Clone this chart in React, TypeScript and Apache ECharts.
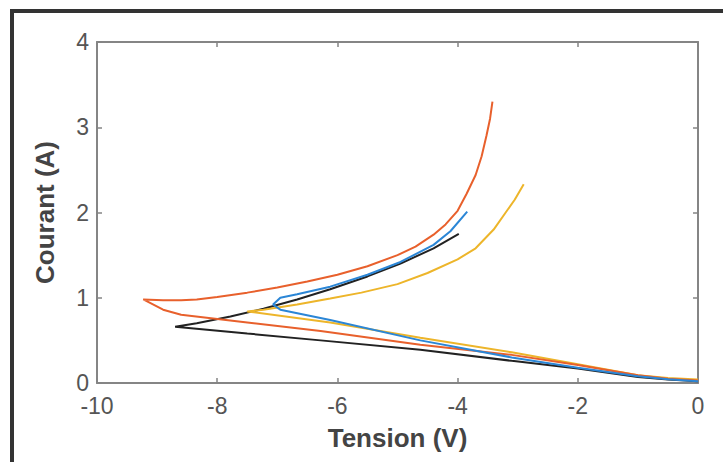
import React, { useEffect, useRef } from "react";
import * as echarts from "echarts";

// Tension (V) / Courant (A) for each curve
const orangeV = [0, -0.5, -1, -2, -3.1, -4.62, -6.28, -7.5, -8.6, -8.9, -9.23, -8.9, -8.6, -8.34, -8.0, -7.5, -7.0, -6.5, -6.0, -5.5, -5.0, -4.7, -4.4, -4.2, -4.0, -3.85, -3.7, -3.6, -3.52, -3.46, -3.42];
const orangeI = [0.03, 0.05, 0.09, 0.21, 0.33, 0.45, 0.61, 0.71, 0.8, 0.86, 0.98, 0.97, 0.97, 0.98, 1.01, 1.06, 1.12, 1.19, 1.27, 1.37, 1.5, 1.6, 1.74, 1.86, 2.02, 2.22, 2.44, 2.66, 2.9, 3.1, 3.3];

const blueV = [0, -0.5, -1, -2, -3.1, -4.62, -6.12, -6.95, -7.07, -6.95, -6.67, -6.12, -5.5, -4.95, -4.4, -4.12, -3.84];
const blueI = [0.02, 0.045, 0.08, 0.18, 0.3, 0.5, 0.74, 0.86, 0.92, 1.0, 1.04, 1.13, 1.27, 1.42, 1.62, 1.78, 2.01];

const yellowV = [0, -0.5, -1, -2, -3.1, -4.62, -6.12, -7.5, -7.23, -6.67, -6.12, -5.6, -5.0, -4.5, -4.0, -3.7, -3.4, -3.2, -3.05, -2.9];
const yellowI = [0.04, 0.06, 0.09, 0.22, 0.36, 0.53, 0.71, 0.84, 0.86, 0.92, 0.99, 1.06, 1.16, 1.29, 1.45, 1.58, 1.8, 2.0, 2.15, 2.33];

const blackV = [0, -0.5, -1, -2, -3.1, -4.62, -6.28, -7.5, -8.7, -8.34, -7.78, -7.23, -6.67, -6.12, -5.5, -4.95, -4.4, -3.98];
const blackI = [0.02, 0.04, 0.07, 0.17, 0.26, 0.39, 0.5, 0.58, 0.66, 0.7, 0.78, 0.87, 0.98, 1.1, 1.25, 1.4, 1.58, 1.75];

const xTicks = [-10, -8, -6, -4, -2, 0];
const yTicks = [0, 1, 2, 3, 4];

const zip = (a: number[], b: number[]) => a.map((v, i) => [v, b[i]]);

const FONT = "Liberation Sans, Arial, sans-serif";
const AXIS = "#858585";
const LABEL = "#555555";

export default function App() {
  const ref = useRef<HTMLDivElement>(null);
  useEffect(() => {
    if (!ref.current) return;
    const chart = echarts.init(ref.current, undefined, { renderer: "svg" });
    const mkLine = (name: string, v: number[], i: number[], color: string) => ({
      name,
      type: "line",
      data: zip(v, i),
      showSymbol: false,
      smooth: false,
      lineStyle: { color, width: 2 },
      itemStyle: { color },
      z: 3,
    });
    const axisCommon = {
      axisLine: { show: true, onZero: false, lineStyle: { color: AXIS, width: 2 } },
      axisTick: { show: true, inside: true, length: 5, lineStyle: { color: AXIS, width: 1.5 } },
      splitLine: { show: false },
    };
    chart.setOption({
      animation: false,
      backgroundColor: "#ffffff",
      grid: { left: 97, right: 25, top: 42, bottom: 79, containLabel: false },
      xAxis: [
        {
          type: "value",
          min: xTicks[0],
          max: xTicks[xTicks.length - 1],
          interval: 2,
          position: "bottom",
          name: "Tension (V)",
          nameLocation: "middle",
          nameGap: 42,
          nameTextStyle: { fontFamily: FONT, fontSize: 26, fontWeight: "bold", color: "#444444" },
          axisLabel: { fontFamily: FONT, fontSize: 23, color: LABEL, margin: 11 },
          ...axisCommon,
        },
        {
          type: "value",
          min: xTicks[0],
          max: xTicks[xTicks.length - 1],
          interval: 2,
          position: "top",
          axisLabel: { show: false },
          ...axisCommon,
        },
      ],
      yAxis: [
        {
          type: "value",
          min: yTicks[0],
          max: yTicks[yTicks.length - 1],
          interval: 1,
          position: "left",
          name: "Courant (A)",
          nameLocation: "middle",
          nameGap: 39,
          nameRotate: 90,
          nameTextStyle: { fontFamily: FONT, fontSize: 26, fontWeight: "bold", color: "#444444" },
          axisLabel: { fontFamily: FONT, fontSize: 23, color: LABEL, margin: 8 },
          ...axisCommon,
        },
        {
          type: "value",
          min: yTicks[0],
          max: yTicks[yTicks.length - 1],
          interval: 1,
          position: "right",
          axisLabel: { show: false },
          ...axisCommon,
        },
      ],
      series: [
        mkLine("black", blackV, blackI, "#222222"),
        mkLine("yellow", yellowV, yellowI, "#EDB52A"),
        mkLine("orange", orangeV, orangeI, "#E8602C"),
        mkLine("blue", blueV, blueI, "#2B86D6"),
      ],
      graphic: [
        { type: "rect", shape: { x: 10, y: 9, width: 713, height: 4 }, style: { fill: "#333333" }, z: 10 },
        { type: "rect", shape: { x: 10, y: 9, width: 4, height: 453 }, style: { fill: "#333333" }, z: 10 },
      ],
    });
    return () => chart.dispose();
  }, []);
  return (
    <div
      ref={ref}
      style={{ position: "absolute", left: 0, top: 0, width: 723, height: 462, background: "#fff" }}
    />
  );
}
